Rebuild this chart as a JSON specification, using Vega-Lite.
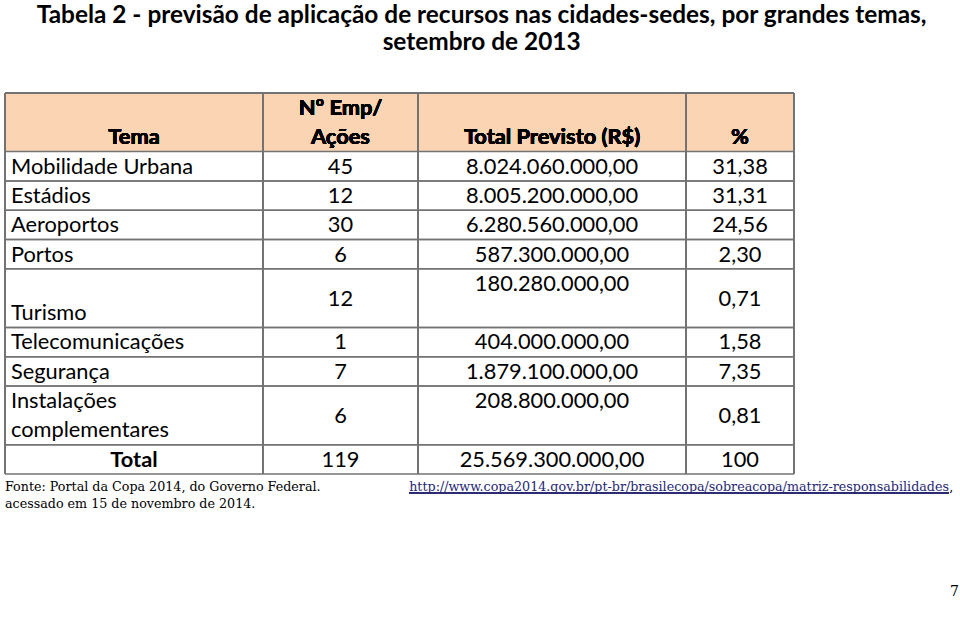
{
  "$schema": "https://vega.github.io/schema/vega-lite/v6.json",
  "background": "white",
  "padding": {"left": 4, "top": 2, "right": 0, "bottom": 0},
  "autosize": {"type": "pad"},
  "title": {
    "text": ["Tabela 2 - previsão de aplicação de recursos nas cidades-sedes, por grandes temas,", "setembro de 2013"],
    "font": "Lato", "fontSize": 24.4, "fontWeight": "bold", "color": "#000000",
    "anchor": "middle", "lineHeight": 27.5, "offset": 36.5, "baseline": "top"
  },
  "config": {
    "view": {"stroke": null},
    "concat": {"spacing": 0},
    "locale": {"number": {"decimal": ",", "thousands": ".", "grouping": [3], "currency": ["R$ ", ""]}},
    "text": {"font": "Lato", "fontSize": 21.8, "color": "#000000"}
  },
  "vconcat": [
    {
      "width": 789,
      "height": 381,
      "data": {"values": [
        {"tema": "Mobilidade Urbana", "emp": 45, "total": 8024060000, "pct": "31,38", "start": 2, "end": 3},
        {"tema": "Estádios", "emp": 12, "total": 8005200000, "pct": "31,31", "start": 3, "end": 4},
        {"tema": "Aeroportos", "emp": 30, "total": 6280560000, "pct": "24,56", "start": 4, "end": 5},
        {"tema": "Portos", "emp": 6, "total": 587300000, "pct": "2,30", "start": 5, "end": 6},
        {"tema": "Turismo", "emp": 12, "total": 180280000, "pct": "0,71", "start": 6, "end": 8},
        {"tema": "Telecomunicações", "emp": 1, "total": 404000000, "pct": "1,58", "start": 8, "end": 9},
        {"tema": "Segurança", "emp": 7, "total": 1879100000, "pct": "7,35", "start": 9, "end": 10},
        {"tema": ["Instalações", "complementares"], "emp": 6, "total": 208800000, "pct": "0,81", "start": 10, "end": 12},
        {"tema": "Total", "emp": 119, "total": 25569300000, "pct": "100", "start": 12, "end": 13}
      ]},
      "layer": [
        {
          "mark": {"type": "rect", "fill": "#FBD4B4"},
          "encoding": {
            "x": {"datum": 0, "type": "quantitative", "scale": {"domain": [0, 100], "nice": false}, "axis": null},
            "x2": {"datum": 100},
            "y": {"datum": 0, "type": "quantitative", "scale": {"domain": [0, 13], "reverse": true, "nice": false}, "axis": null},
            "y2": {"datum": 2}
          }
        },
        {
          "mark": {"type": "rule", "stroke": "#737373", "strokeWidth": 1.5},
          "encoding": {
            "x": {"datum": 0, "type": "quantitative", "scale": {"domain": [0, 100], "nice": false}, "axis": null},
            "x2": {"datum": 100},
            "y": {"field": "start", "type": "quantitative", "scale": {"domain": [0, 13], "reverse": true, "nice": false}, "axis": null}
          }
        },
        {
          "mark": {"type": "rule", "stroke": "#737373", "strokeWidth": 1.5},
          "encoding": {
            "x": {"datum": 0, "type": "quantitative", "scale": {"domain": [0, 100], "nice": false}, "axis": null},
            "x2": {"datum": 100},
            "y": {"field": "end", "type": "quantitative", "scale": {"domain": [0, 13], "reverse": true, "nice": false}, "axis": null}
          }
        },
        {
          "mark": {"type": "rule", "stroke": "#737373", "strokeWidth": 1.5},
          "encoding": {
            "x": {"datum": 0, "type": "quantitative", "scale": {"domain": [0, 100], "nice": false}, "axis": null},
            "x2": {"datum": 100},
            "y": {"datum": 0, "type": "quantitative", "scale": {"domain": [0, 13], "reverse": true, "nice": false}, "axis": null}
          }
        },
        {
          "mark": {"type": "rule", "stroke": "#737373", "strokeWidth": 1.5},
          "encoding": {
            "x": {"datum": 0, "type": "quantitative", "scale": {"domain": [0, 100], "nice": false}, "axis": null},
            "y": {"datum": 0, "type": "quantitative", "scale": {"domain": [0, 13], "reverse": true, "nice": false}, "axis": null},
            "y2": {"datum": 13}
          }
        },
        {
          "mark": {"type": "rule", "stroke": "#737373", "strokeWidth": 1.5},
          "encoding": {
            "x": {"datum": 32.7, "type": "quantitative", "scale": {"domain": [0, 100], "nice": false}, "axis": null},
            "y": {"datum": 0, "type": "quantitative", "scale": {"domain": [0, 13], "reverse": true, "nice": false}, "axis": null},
            "y2": {"datum": 13}
          }
        },
        {
          "mark": {"type": "rule", "stroke": "#737373", "strokeWidth": 1.5},
          "encoding": {
            "x": {"datum": 52.34, "type": "quantitative", "scale": {"domain": [0, 100], "nice": false}, "axis": null},
            "y": {"datum": 0, "type": "quantitative", "scale": {"domain": [0, 13], "reverse": true, "nice": false}, "axis": null},
            "y2": {"datum": 13}
          }
        },
        {
          "mark": {"type": "rule", "stroke": "#737373", "strokeWidth": 1.5},
          "encoding": {
            "x": {"datum": 86.31, "type": "quantitative", "scale": {"domain": [0, 100], "nice": false}, "axis": null},
            "y": {"datum": 0, "type": "quantitative", "scale": {"domain": [0, 13], "reverse": true, "nice": false}, "axis": null},
            "y2": {"datum": 13}
          }
        },
        {
          "mark": {"type": "rule", "stroke": "#737373", "strokeWidth": 1.5},
          "encoding": {
            "x": {"datum": 100, "type": "quantitative", "scale": {"domain": [0, 100], "nice": false}, "axis": null},
            "y": {"datum": 0, "type": "quantitative", "scale": {"domain": [0, 13], "reverse": true, "nice": false}, "axis": null},
            "y2": {"datum": 13}
          }
        },
        {
          "mark": {"type": "text", "align": "center", "baseline": "alphabetic", "fontWeight": "bold", "dy": 22},
          "encoding": {
            "x": {"datum": 16.35, "type": "quantitative", "scale": {"domain": [0, 100], "nice": false}, "axis": null},
            "y": {"datum": 1, "type": "quantitative", "scale": {"domain": [0, 13], "reverse": true, "nice": false}, "axis": null},
            "text": {"value": "Tema"}
          }
        },
        {
          "mark": {"type": "text", "align": "center", "baseline": "alphabetic", "fontWeight": "bold", "dy": 22, "lineHeight": 29.3},
          "encoding": {
            "x": {"datum": 42.52, "type": "quantitative", "scale": {"domain": [0, 100], "nice": false}, "axis": null},
            "y": {"datum": 0, "type": "quantitative", "scale": {"domain": [0, 13], "reverse": true, "nice": false}, "axis": null},
            "text": {"value": ["Nº Emp/", "Ações"]}
          }
        },
        {
          "mark": {"type": "text", "align": "center", "baseline": "alphabetic", "fontWeight": "bold", "dy": 22},
          "encoding": {
            "x": {"datum": 69.33, "type": "quantitative", "scale": {"domain": [0, 100], "nice": false}, "axis": null},
            "y": {"datum": 1, "type": "quantitative", "scale": {"domain": [0, 13], "reverse": true, "nice": false}, "axis": null},
            "text": {"value": "Total Previsto (R$)"}
          }
        },
        {
          "mark": {"type": "text", "align": "center", "baseline": "alphabetic", "fontWeight": "bold", "dy": 22},
          "encoding": {
            "x": {"datum": 93.16, "type": "quantitative", "scale": {"domain": [0, 100], "nice": false}, "axis": null},
            "y": {"datum": 1, "type": "quantitative", "scale": {"domain": [0, 13], "reverse": true, "nice": false}, "axis": null},
            "text": {"value": "%"}
          }
        },
        {
          "transform": [{"filter": "datum.tema !== 'Total' && (isArray(datum.tema) || datum.end - datum.start === 1)"}],
          "mark": {"type": "text", "align": "left", "baseline": "alphabetic", "dy": 22, "lineHeight": 29.3},
          "encoding": {
            "x": {"datum": 0.76, "type": "quantitative", "scale": {"domain": [0, 100], "nice": false}, "axis": null},
            "y": {"field": "start", "type": "quantitative", "scale": {"domain": [0, 13], "reverse": true, "nice": false}, "axis": null},
            "text": {"field": "tema", "type": "nominal"}
          }
        },
        {
          "transform": [{"filter": "!isArray(datum.tema) && datum.end - datum.start === 2"}],
          "mark": {"type": "text", "align": "left", "baseline": "alphabetic", "dy": 51.5},
          "encoding": {
            "x": {"datum": 0.76, "type": "quantitative", "scale": {"domain": [0, 100], "nice": false}, "axis": null},
            "y": {"field": "start", "type": "quantitative", "scale": {"domain": [0, 13], "reverse": true, "nice": false}, "axis": null},
            "text": {"field": "tema", "type": "nominal"}
          }
        },
        {
          "transform": [{"filter": "datum.tema === 'Total'"}],
          "mark": {"type": "text", "align": "center", "baseline": "alphabetic", "fontWeight": "bold", "dy": 22},
          "encoding": {
            "x": {"datum": 16.35, "type": "quantitative", "scale": {"domain": [0, 100], "nice": false}, "axis": null},
            "y": {"field": "start", "type": "quantitative", "scale": {"domain": [0, 13], "reverse": true, "nice": false}, "axis": null},
            "text": {"field": "tema", "type": "nominal"}
          }
        },
        {
          "transform": [{"filter": "datum.end - datum.start === 1"}],
          "mark": {"type": "text", "align": "center", "baseline": "alphabetic", "dy": 22},
          "encoding": {
            "x": {"datum": 42.52, "type": "quantitative", "scale": {"domain": [0, 100], "nice": false}, "axis": null},
            "y": {"field": "start", "type": "quantitative", "scale": {"domain": [0, 13], "reverse": true, "nice": false}, "axis": null},
            "text": {"field": "emp", "type": "quantitative", "format": "d"}
          }
        },
        {
          "transform": [{"filter": "datum.end - datum.start === 2"}],
          "mark": {"type": "text", "align": "center", "baseline": "alphabetic", "dy": 37},
          "encoding": {
            "x": {"datum": 42.52, "type": "quantitative", "scale": {"domain": [0, 100], "nice": false}, "axis": null},
            "y": {"field": "start", "type": "quantitative", "scale": {"domain": [0, 13], "reverse": true, "nice": false}, "axis": null},
            "text": {"field": "emp", "type": "quantitative", "format": "d"}
          }
        },
        {
          "mark": {"type": "text", "align": "center", "baseline": "alphabetic", "dy": 22},
          "encoding": {
            "x": {"datum": 69.33, "type": "quantitative", "scale": {"domain": [0, 100], "nice": false}, "axis": null},
            "y": {"field": "start", "type": "quantitative", "scale": {"domain": [0, 13], "reverse": true, "nice": false}, "axis": null},
            "text": {"field": "total", "type": "quantitative", "format": ",.2f"}
          }
        },
        {
          "transform": [{"filter": "datum.end - datum.start === 1"}],
          "mark": {"type": "text", "align": "center", "baseline": "alphabetic", "dy": 22},
          "encoding": {
            "x": {"datum": 93.16, "type": "quantitative", "scale": {"domain": [0, 100], "nice": false}, "axis": null},
            "y": {"field": "start", "type": "quantitative", "scale": {"domain": [0, 13], "reverse": true, "nice": false}, "axis": null},
            "text": {"field": "pct", "type": "nominal"}
          }
        },
        {
          "transform": [{"filter": "datum.end - datum.start === 2"}],
          "mark": {"type": "text", "align": "center", "baseline": "alphabetic", "dy": 37},
          "encoding": {
            "x": {"datum": 93.16, "type": "quantitative", "scale": {"domain": [0, 100], "nice": false}, "axis": null},
            "y": {"field": "start", "type": "quantitative", "scale": {"domain": [0, 13], "reverse": true, "nice": false}, "axis": null},
            "text": {"field": "pct", "type": "nominal"}
          }
        }
      ]
    },
    {
      "width": 951,
      "height": 150,
      "data": {"values": [
        {"part": "fonte", "text": "Fonte: Portal da Copa 2014, do Governo Federal."},
        {"part": "url", "text": "http://www.copa2014.gov.br/pt-br/brasilecopa/sobreacopa/matriz-responsabilidades"},
        {"part": "comma", "text": ","},
        {"part": "acesso", "text": "acessado em 15 de novembro de 2014."},
        {"part": "page", "text": "7"}
      ]},
      "layer": [
        {
          "transform": [{"filter": "datum.part === 'fonte'"}],
          "mark": {"type": "text", "align": "left", "baseline": "alphabetic", "font": "DejaVu Serif", "fontSize": 12.7, "dy": 1},
          "encoding": {
            "x": {"datum": 0, "type": "quantitative", "scale": {"domain": [0, 100], "nice": false}, "axis": null},
            "y": {"datum": 1, "type": "quantitative", "scale": {"domain": [0, 10], "reverse": true, "nice": false}, "axis": null},
            "text": {"field": "text", "type": "nominal"}
          }
        },
        {
          "transform": [{"filter": "datum.part === 'url'"}],
          "mark": {"type": "text", "align": "right", "baseline": "alphabetic", "font": "DejaVu Serif", "fontSize": 12.7, "dy": 1, "color": "#262673"},
          "encoding": {
            "x": {"datum": 99.26, "type": "quantitative", "scale": {"domain": [0, 100], "nice": false}, "axis": null},
            "y": {"datum": 1, "type": "quantitative", "scale": {"domain": [0, 10], "reverse": true, "nice": false}, "axis": null},
            "text": {"field": "text", "type": "nominal"}
          }
        },
        {
          "mark": {"type": "rule", "stroke": "#262673", "strokeWidth": 1},
          "encoding": {
            "x": {"datum": 42.48, "type": "quantitative", "scale": {"domain": [0, 100], "nice": false}, "axis": null},
            "x2": {"datum": 99.26},
            "y": {"datum": 1.2, "type": "quantitative", "scale": {"domain": [0, 10], "reverse": true, "nice": false}, "axis": null}
          }
        },
        {
          "transform": [{"filter": "datum.part === 'comma'"}],
          "mark": {"type": "text", "align": "left", "baseline": "alphabetic", "font": "DejaVu Serif", "fontSize": 12.7, "dy": 1},
          "encoding": {
            "x": {"datum": 99.3, "type": "quantitative", "scale": {"domain": [0, 100], "nice": false}, "axis": null},
            "y": {"datum": 1, "type": "quantitative", "scale": {"domain": [0, 10], "reverse": true, "nice": false}, "axis": null},
            "text": {"field": "text", "type": "nominal"}
          }
        },
        {
          "transform": [{"filter": "datum.part === 'acesso'"}],
          "mark": {"type": "text", "align": "left", "baseline": "alphabetic", "font": "DejaVu Serif", "fontSize": 12.7, "dy": -1},
          "encoding": {
            "x": {"datum": 0, "type": "quantitative", "scale": {"domain": [0, 100], "nice": false}, "axis": null},
            "y": {"datum": 2.27, "type": "quantitative", "scale": {"domain": [0, 10], "reverse": true, "nice": false}, "axis": null},
            "text": {"field": "text", "type": "nominal"}
          }
        },
        {
          "transform": [{"filter": "datum.part === 'page'"}],
          "mark": {"type": "text", "align": "right", "baseline": "alphabetic", "font": "DejaVu Serif", "fontSize": 14, "dx": 3},
          "encoding": {
            "x": {"datum": 100, "type": "quantitative", "scale": {"domain": [0, 100], "nice": false}, "axis": null},
            "y": {"datum": 8.05, "type": "quantitative", "scale": {"domain": [0, 10], "reverse": true, "nice": false}, "axis": null},
            "text": {"field": "text", "type": "nominal"}
          }
        }
      ]
    }
  ]
}
